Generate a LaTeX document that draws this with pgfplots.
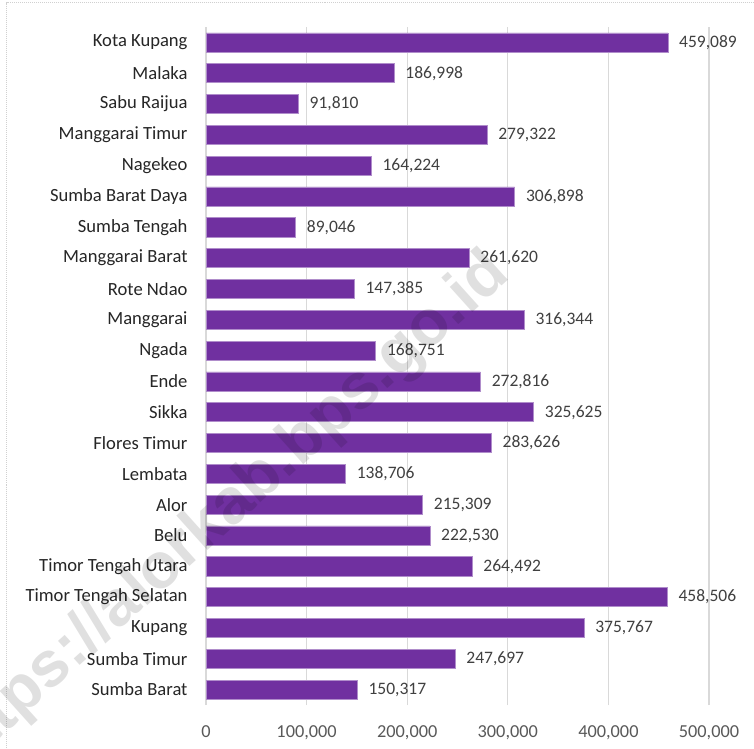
\documentclass[border=0pt]{standalone}
\usepackage{pgfplots}
\pgfplotsset{compat=1.18}
\usepackage{fontspec}
\setmainfont{Carlito}
\newfontfamily\wmfont{Liberation Sans}
\definecolor{barPurple}{HTML}{7030A0}
\definecolor{gridGray}{HTML}{D9D9D9}
\definecolor{txtDark}{HTML}{262626}
\definecolor{lblGray}{HTML}{404040}
\definecolor{tickGray}{HTML}{595959}
\definecolor{frameGray}{HTML}{D0D0D0}

\begin{document}
\begin{tikzpicture}[font=\fontsize{18bp}{21bp}\selectfont]
\useasboundingbox (0,0) rectangle (754bp,749bp);
\clip (0,0) rectangle (754bp,749bp);
\fill[white] (0,0) rectangle (754bp,749bp);
\draw[frameGray,line width=1bp,densely dotted] (6.5bp,-5bp) -- (6.5bp,746bp) -- (760bp,746bp);
\begin{axis}[
    at={(206bp,44bp)},anchor=south west,
    scale only axis,width=503bp,height=678bp,
    xbar,bar width=0.62,
    xmin=0,xmax=500000,ymin=-0.5,ymax=21.5,
    axis line style={draw=none},
    major tick length=0pt,
    xmajorgrids,grid style={gridGray,line width=1.3bp},
    xtick={0,100000,200000,300000,400000,500000},
    scaled x ticks=false,
    /pgf/number format/.cd,1000 sep={,},fixed,precision=0,assume math mode=true,
    /pgfplots/.cd,
    xticklabel style={tickGray,yshift=-17bp,font=\fontsize{18.3bp}{21bp}\selectfont},
    ytick={0,...,21},
    yticklabels={Sumba Barat,Sumba Timur,Kupang,Timor Tengah Selatan,Timor Tengah Utara,Belu,Alor,Lembata,Flores Timur,Sikka,Ende,Ngada,Manggarai,Rote Ndao,Manggarai Barat,Sumba Tengah,Sumba Barat Daya,Nagekeo,Manggarai Timur,Sabu Raijua,Malaka,Kota Kupang},
    yticklabel style={txtDark,xshift=-15bp,font=\fontsize{18.6bp}{21bp}\selectfont},
    nodes near coords,
    every node near coord/.append style={lblGray,anchor=west,inner ysep=0pt,inner xsep=11bp,font=\fontsize{17.5bp}{21bp}\selectfont},
]
\addplot[fill=barPurple,draw=barPurple!55!white,line width=0.6bp] coordinates {
(150317,0) (247697,1) (375767,2) (458506,3) (264492,4) (222530,5)
(215309,6) (138706,7) (283626,8) (325625,9) (272816,10) (168751,11)
(316344,12) (147385,13) (261620,14) (89046,15) (306898,16) (164224,17)
(279322,18) (91810,19) (186998,20) (459089,21)};
\end{axis}
\node[rotate=42,anchor=base east,text=black,opacity=0.12,font=\wmfont\bfseries\fontsize{64bp}{74bp}\selectfont]
  at (514bp,474bp) {https://alorkab.bps.go.id};
\end{tikzpicture}
\end{document}
